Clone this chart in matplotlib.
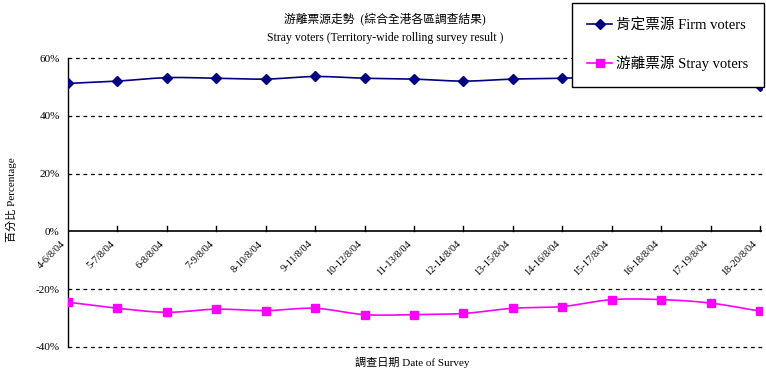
"""
Stray voters trend chart (territory-wide rolling survey), Excel-style line chart.
"""

import numpy as np
import matplotlib
matplotlib.use("Agg")
import matplotlib.pyplot as plt
from matplotlib.lines import Line2D

FONT = ['Liberation Serif', 'Noto Sans CJK TC', 'DejaVu Serif']
plt.rcParams['font.family'] = FONT

# Data
dates = ['4-6/8/04', '5-7/8/04', '6-8/8/04', '7-9/8/04', '8-10/8/04',
         '9-11/8/04', '10-12/8/04', '11-13/8/04', '12-14/8/04', '13-15/8/04',
         '14-16/8/04', '15-17/8/04', '16-18/8/04', '17-19/8/04', '18-20/8/04']
firm = [51.2, 52.0, 53.2, 53.0, 52.7, 53.6, 53.0, 52.7, 52.0, 52.7,
        53.0, 53.5, 53.8, 53.0, 50.3]
stray = [-24.5, -26.6, -28.0, -26.9, -27.4, -26.6, -28.8, -28.8, -28.4, -26.6,
         -26.0, -23.6, -23.6, -24.8, -27.6]
yticks = [-40, -20, 0, 20, 40, 60]
ytick_labels = ['-40%', '-20%', '0%', '20%', '40%', '60%']

NAVY = '#000080'
MAGENTA = '#FF00FF'


def smooth(x, y, n=20):
    # Catmull-Rom curve through the points, like Excel's smoothed line
    x = np.asarray(x, float)
    y = np.asarray(y, float)
    px = np.concatenate([[x[0]], x, [x[-1]]])
    py = np.concatenate([[y[0]], y, [y[-1]]])
    xs, ys = [], []
    t = np.linspace(0, 1, n)
    for i in range(1, len(px) - 2):
        for p, out in ((px, xs), (py, ys)):
            p0, p1, p2, p3 = p[i - 1], p[i], p[i + 1], p[i + 2]
            out.extend(0.5 * (2 * p1 + (-p0 + p2) * t
                              + (2 * p0 - 5 * p1 + 4 * p2 - p3) * t ** 2
                              + (-p0 + 3 * p1 - 3 * p2 + p3) * t ** 3))
    return np.array(xs), np.array(ys)


fig = plt.figure(figsize=(7.66, 3.78), dpi=100)
ax = fig.add_axes([68 / 766, 31 / 378, (762 - 68) / 766, 289 / 378])

x = np.arange(len(dates))

sx, sy = smooth(x, firm)
ax.plot(sx, sy, color=NAVY, lw=1.2, zorder=3)
ax.plot(x, firm, ls='none', marker='D', ms=4.8, color=NAVY, zorder=4)

sx, sy = smooth(x, stray)
ax.plot(sx, sy, color=MAGENTA, lw=1.2, zorder=3)
ax.plot(x, stray, ls='none', marker='s', ms=6, color=MAGENTA, zorder=4)

ax.set_xlim(0, len(dates) - 1 + 0.04)
ax.set_ylim(-40, 60)

# gridlines
for v in yticks:
    if v != 0:
        ax.axhline(v, color='black', lw=0.9, ls=(0, (3, 3)), zorder=1, clip_on=False)

for s in ['top', 'right', 'bottom']:
    ax.spines[s].set_visible(False)
ax.spines['left'].set_linewidth(1.0)
ax.axhline(0, color='black', lw=1.2, zorder=2)

ax.set_yticks(yticks)
ax.set_yticklabels(ytick_labels, fontsize=8)
ax.tick_params(axis='y', length=0, pad=6)

ax.set_xticks(x)
ax.set_xticklabels([])
ax.tick_params(axis='x', length=0)
for xi in x[1:]:
    ax.plot([xi, xi], [0, 1.7], color='black', lw=1.0, zorder=2, clip_on=False)
for xi, lab in zip(x, dates):
    ax.annotate(lab, xy=(xi, 0), xytext=(-3, -8), textcoords='offset points',
                rotation=45, rotation_mode='anchor', ha='right', va='center',
                fontsize=7.5, family=FONT)

fig.text(385 / 766, 1 - 20 / 378, '游離票源走勢  (綜合全港各區調查結果)',
         ha='center', va='center', fontsize=8.5)
fig.text(385 / 766, 1 - 38 / 378, 'Stray voters (Territory-wide rolling survey result )',
         ha='center', va='center', fontsize=8.5)
fig.text(12 / 766, 1 - 200 / 378, '百分比 Percentage', rotation=90,
         ha='center', va='center', fontsize=8)
fig.text(412 / 766, 1 - 362 / 378, '調查日期 Date of Survey',
         ha='center', va='center', fontsize=8)

handles = [
    Line2D([], [], color=NAVY, marker='D', ms=4.8, lw=1.2),
    Line2D([], [], color=MAGENTA, marker='s', ms=6, lw=1.2),
]
leg = fig.legend(handles, ['肯定票源 Firm voters', '游離票源 Stray voters'],
                 loc='upper right', bbox_to_anchor=(764 / 766, 1 - 3 / 378),
                 fontsize=10.5, frameon=True, fancybox=False, framealpha=1,
                 edgecolor='black', handlelength=1.7, handletextpad=0.3,
                 labelspacing=1.6, borderpad=1.05, borderaxespad=0)
leg.get_frame().set_linewidth(1.0)

fig.savefig('out.png', dpi=100, facecolor='white')
